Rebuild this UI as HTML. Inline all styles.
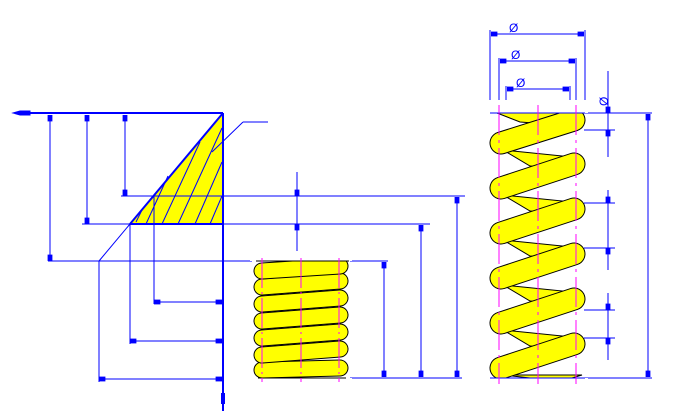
<!DOCTYPE html>
<html><head><style>html,body{margin:0;padding:0;background:#fff}svg{display:block}</style></head><body>
<svg width="674" height="415" viewBox="0 0 674 415" xmlns="http://www.w3.org/2000/svg">
<defs>
<marker id="a" viewBox="0 0 10 6" refX="10" refY="3" markerWidth="8" markerHeight="5" orient="auto-start-reverse" markerUnits="userSpaceOnUse"><rect x="2" y="0" width="8" height="6" fill="#0000ff"/></marker>
</defs>
<g stroke="#0000ff" fill="none">
<polygon points="223,113 130,224 223,224" fill="#ffff00" stroke="none"/>
<g stroke-width="1">
<line x1="210" y1="224" x2="222" y2="196"/><line x1="195" y1="224" x2="222" y2="162"/>
<line x1="178" y1="224" x2="222" y2="128"/><line x1="162" y1="224" x2="200" y2="142"/>
<line x1="146" y1="224" x2="168" y2="176"/><line x1="136" y1="222" x2="143" y2="208"/>
</g>
<line x1="20" y1="113" x2="223" y2="113" stroke-width="2"/>
<path d="M13 113 L20 111 L30 111 L30 115 L20 115Z" fill="#0000ff"/>
<line x1="223" y1="113" x2="223" y2="400" stroke-width="2"/>
<rect x="221" y="393" width="4" height="11" fill="#0000ff" stroke="none"/><line x1="223" y1="404" x2="223" y2="411" stroke-width="2"/>
<line x1="223" y1="113" x2="130" y2="224" stroke-width="2"/>
<line x1="130" y1="224" x2="99" y2="261"/>
<line x1="130" y1="224" x2="223" y2="224" stroke-width="2"/>
<line x1="212" y1="152" x2="243" y2="122"/><line x1="243" y1="122" x2="268" y2="122"/>
<line x1="121" y1="196" x2="465" y2="196"/>
<line x1="82" y1="224" x2="430" y2="224"/>
<line x1="48" y1="261" x2="252" y2="261"/>
<line x1="50" y1="115" x2="50" y2="261" marker-start="url(#a)" marker-end="url(#a)"/>
<line x1="87" y1="115" x2="87" y2="224" marker-start="url(#a)" marker-end="url(#a)"/>
<line x1="125" y1="115" x2="125" y2="196" marker-start="url(#a)" marker-end="url(#a)"/>
<line x1="154" y1="196" x2="154" y2="304"/><line x1="154" y1="302" x2="222" y2="302" marker-start="url(#a)" marker-end="url(#a)"/>
<line x1="130" y1="224" x2="130" y2="344"/><line x1="130" y1="341" x2="222" y2="341" marker-start="url(#a)" marker-end="url(#a)"/>
<line x1="99" y1="261" x2="99" y2="382"/><line x1="99" y1="379" x2="222" y2="379" marker-start="url(#a)" marker-end="url(#a)"/>
<line x1="297" y1="172" x2="297" y2="251"/>
<line x1="297" y1="180" x2="297" y2="196" marker-end="url(#a)"/>
<line x1="297" y1="240" x2="297" y2="224" marker-end="url(#a)"/>
<line x1="350" y1="261" x2="388" y2="261"/><line x1="350" y1="378" x2="462" y2="378"/>
<line x1="384" y1="262" x2="384" y2="377" marker-start="url(#a)" marker-end="url(#a)"/>
<line x1="421" y1="225" x2="421" y2="377" marker-start="url(#a)" marker-end="url(#a)"/>
<line x1="457" y1="197" x2="457" y2="377" marker-start="url(#a)" marker-end="url(#a)"/>
<line x1="490" y1="30" x2="490" y2="113"/><line x1="585" y1="30" x2="585" y2="113"/>
<line x1="499" y1="58" x2="499" y2="113"/><line x1="576" y1="58" x2="576" y2="113"/>
<line x1="506" y1="86" x2="506" y2="113"/><line x1="570" y1="86" x2="570" y2="113"/>
<line x1="491" y1="34" x2="584" y2="34" marker-start="url(#a)" marker-end="url(#a)"/>
<line x1="500" y1="61" x2="575" y2="61" marker-start="url(#a)" marker-end="url(#a)"/>
<line x1="507" y1="89" x2="569" y2="89" marker-start="url(#a)" marker-end="url(#a)"/>
<line x1="585" y1="113" x2="652" y2="113"/><line x1="585" y1="378" x2="652" y2="378"/>
<line x1="648" y1="114" x2="648" y2="377" marker-start="url(#a)" marker-end="url(#a)"/>
<line x1="608" y1="71" x2="608" y2="157"/>
<line x1="608" y1="100" x2="608" y2="113" marker-end="url(#a)"/><line x1="608" y1="143" x2="608" y2="130" marker-end="url(#a)"/>
<line x1="584" y1="130" x2="615" y2="130"/>
<line x1="608" y1="190" x2="608" y2="270"/>
<line x1="584" y1="203" x2="615" y2="203"/><line x1="584" y1="248" x2="615" y2="248"/>
<line x1="608" y1="190" x2="608" y2="203" marker-end="url(#a)"/><line x1="608" y1="262" x2="608" y2="248" marker-end="url(#a)"/>
<line x1="608" y1="293" x2="608" y2="360"/>
<line x1="584" y1="310" x2="615" y2="310"/><line x1="584" y1="338" x2="615" y2="338"/>
<line x1="608" y1="296" x2="608" y2="310" marker-end="url(#a)"/><line x1="608" y1="352" x2="608" y2="338" marker-end="url(#a)"/>
</g>
<g font-family="Liberation Sans, sans-serif" font-size="12" fill="#0000ff">
<text x="509" y="32">Ø</text><text x="511" y="59">Ø</text><text x="516" y="87">Ø</text>
<text x="598" y="104" transform="rotate(-90 604 100)">Ø</text>
</g>
<!-- middle spring: each coil black then yellow, bottom to top? draw top first -->
<g stroke-linecap="round">
<line x1="262" y1="370" x2="340" y2="368" stroke="#000" stroke-width="17"/><line x1="262" y1="370" x2="340" y2="368" stroke="#ff0" stroke-width="15"/>
<line x1="262" y1="355" x2="340" y2="349" stroke="#000" stroke-width="17"/><line x1="262" y1="355" x2="340" y2="349" stroke="#ff0" stroke-width="15"/>
<line x1="262" y1="338" x2="340" y2="332" stroke="#000" stroke-width="17"/><line x1="262" y1="338" x2="340" y2="332" stroke="#ff0" stroke-width="15"/>
<line x1="262" y1="321" x2="340" y2="315" stroke="#000" stroke-width="17"/><line x1="262" y1="321" x2="340" y2="315" stroke="#ff0" stroke-width="15"/>
<line x1="262" y1="304" x2="340" y2="298" stroke="#000" stroke-width="17"/><line x1="262" y1="304" x2="340" y2="298" stroke="#ff0" stroke-width="15"/>
<line x1="262" y1="287" x2="340" y2="281" stroke="#000" stroke-width="17"/><line x1="262" y1="287" x2="340" y2="281" stroke="#ff0" stroke-width="15"/>
<line x1="262" y1="271" x2="340" y2="266" stroke="#000" stroke-width="17"/><line x1="262" y1="271" x2="340" y2="266" stroke="#ff0" stroke-width="15"/>
</g>
<rect x="250" y="255" width="102" height="6" fill="#fff"/><line x1="256" y1="261" x2="349" y2="261" stroke="#000"/>
<rect x="250" y="378" width="102" height="6" fill="#fff"/><line x1="258" y1="378" x2="346" y2="378" stroke="#000"/>
<g stroke="#ff00ff" stroke-dasharray="30,4,2,4">
<line x1="262" y1="258" x2="262" y2="382"/><line x1="301" y1="258" x2="301" y2="382"/><line x1="339" y1="258" x2="339" y2="382"/>
</g>
<!-- right spring back strands (triangles) -->
<g fill="#ff0" stroke="#000" stroke-width="1">
<polygon points="497,113 582,113 560,125 520,122"/>
<polygon points="503,150 582,158 572,170 530,166"/>
<polygon points="503,195 582,203 572,215 530,211"/>
<polygon points="503,240 582,248 572,260 530,256"/>
<polygon points="503,285 582,293 572,305 530,301"/>
<polygon points="503,330 582,338 572,350 530,346"/>
<polygon points="503,375 582,375 572,378 530,378"/>
</g>
<g stroke-linecap="round">
<line x1="501" y1="368" x2="574" y2="344" stroke="#000" stroke-width="23"/><line x1="501" y1="368" x2="574" y2="344" stroke="#ff0" stroke-width="21"/>
<line x1="501" y1="323" x2="574" y2="299" stroke="#000" stroke-width="23"/><line x1="501" y1="323" x2="574" y2="299" stroke="#ff0" stroke-width="21"/>
<line x1="501" y1="278" x2="574" y2="254" stroke="#000" stroke-width="23"/><line x1="501" y1="278" x2="574" y2="254" stroke="#ff0" stroke-width="21"/>
<line x1="501" y1="233" x2="574" y2="209" stroke="#000" stroke-width="23"/><line x1="501" y1="233" x2="574" y2="209" stroke="#ff0" stroke-width="21"/>
<line x1="501" y1="188" x2="574" y2="164" stroke="#000" stroke-width="23"/><line x1="501" y1="188" x2="574" y2="164" stroke="#ff0" stroke-width="21"/>
<line x1="501" y1="143" x2="574" y2="120" stroke="#000" stroke-width="23"/><line x1="501" y1="143" x2="574" y2="120" stroke="#ff0" stroke-width="21"/>
</g>
<rect x="488" y="100" width="100" height="13" fill="#fff"/>
<rect x="488" y="378" width="100" height="12" fill="#fff"/>
<line x1="490" y1="113" x2="585" y2="113" stroke="#0000ff"/>
<line x1="490" y1="378" x2="585" y2="378" stroke="#0000ff"/>
<g stroke="#ff00ff" stroke-dasharray="30,5,3,5">
<line x1="499" y1="105" x2="499" y2="384"/><line x1="538" y1="105" x2="538" y2="384"/><line x1="576" y1="105" x2="576" y2="384"/>
</g>
</svg>
</body></html>
